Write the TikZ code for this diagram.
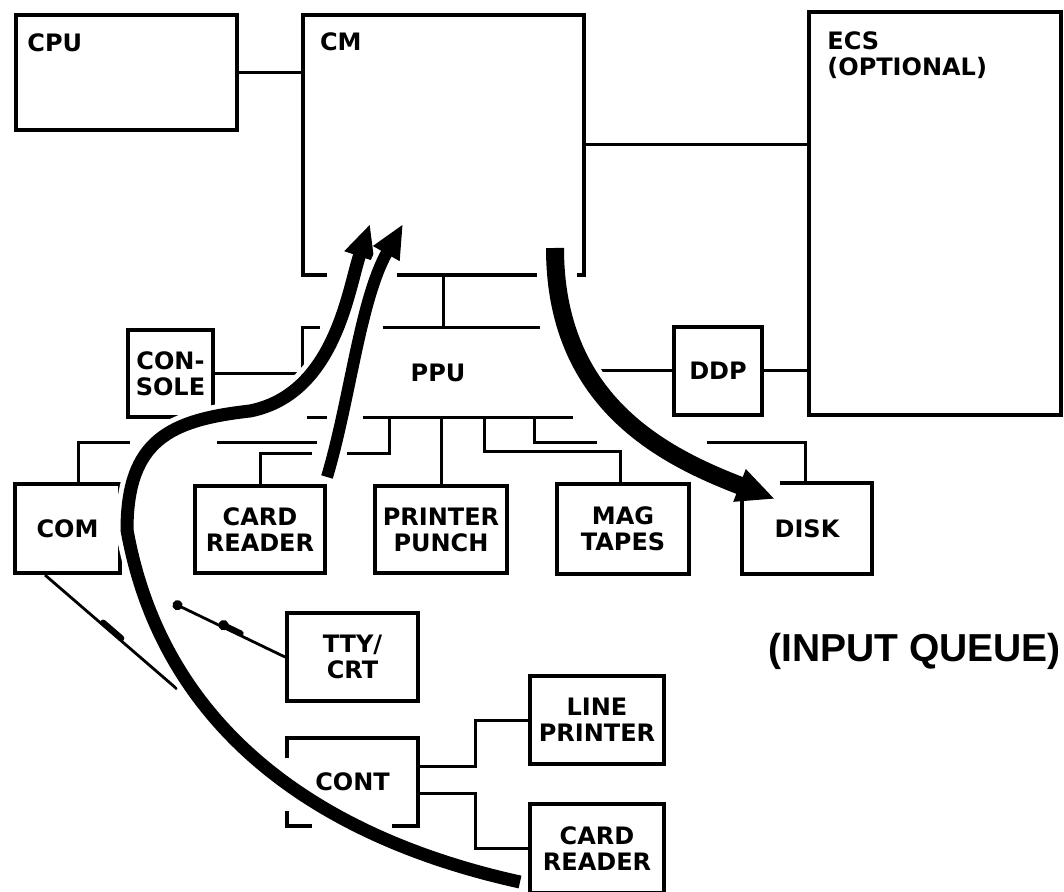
\documentclass[tikz,border=0pt]{standalone}
\usepackage{fontspec}
\setmainfont{DejaVu Sans}
\newfontfamily\queuefont{Liberation Sans}
\usetikzlibrary{arrows.meta,calc,decorations.markings}

\begin{document}
\begin{tikzpicture}[x=0.5pt,y=-0.5pt,
  font=\fontsize{12}{13}\selectfont\bfseries,
  unit/.style={draw,line width=2pt,inner sep=0pt,align=center},
  frame/.style={inner sep=0pt,align=center},
  tag/.style={anchor=north west,inner sep=0pt,align=left},
  link/.style={line width=1.5pt},
  wall/.style={line width=2pt},
  flow/.style={line width=#1,line cap=butt},
  commline/.style={line width=1.4pt,postaction={decorate,decoration={markings,
    mark=at position 0.5 with {\draw[line width=3pt,line cap=round] (-6pt,1pt) -- (6pt,1pt);}}}}]
  \useasboundingbox (0,0) rectangle (1064,892);

  \node[unit,minimum width=110.5pt,minimum height=57.5pt,
    label={[tag,xshift=6.5pt,yshift=-10pt]north west:CPU}] (cpu) at (126.5,72.5) {};
  \node[frame,minimum width=140.5pt,minimum height=130pt,
    label={[tag,xshift=8.5pt,yshift=-9pt]north west:CM}] (cm) at (443.5,145) {};
  \node[unit,minimum width=126pt,minimum height=201.5pt,
    label={[tag,xshift=10pt,yshift=-10.5pt]north west:ECS\\(OPTIONAL)}] (ecs) at (935,213.5) {};
  \node[unit,minimum width=42.5pt,minimum height=43.5pt] (console) at (170.5,373.5) {CON-\\SOLE};
  \node[frame,minimum width=135pt,minimum height=44.5pt] (ppu) at (438,372.5) {PPU};
  \node[unit,minimum size=44pt] (ddp) at (718,371) {DDP};
  \node[unit,minimum width=52.5pt,minimum height=44.5pt] (com) at (67.5,528.5) {COM};
  \node[unit,minimum width=65pt,minimum height=43.5pt] (cardrd) at (260,529.5) {CARD\\READER};
  \node[unit,minimum width=66pt,minimum height=43.5pt] (punch) at (441,529.5) {PRINTER\\PUNCH};
  \node[unit,minimum width=66pt,minimum height=45pt] (mag) at (623,529) {MAG\\TAPES};
  \node[frame,minimum width=65pt,minimum height=45.5pt] (disk) at (807,528.5) {DISK};
  \node[unit,minimum width=65.5pt,minimum height=44pt] (tty) at (352.5,657) {TTY/\\CRT};
  \node[frame,minimum width=65.5pt,minimum height=44pt] (cont) at (352.5,782) {CONT};
  \node[unit,minimum width=67pt,minimum height=44pt] (lp) at (597,720) {LINE\\PRINTER};
  \node[unit,minimum width=67pt,minimum height=44.5pt] (cardrb) at (597,848.5) {CARD\\READER};
  \node[anchor=base west,inner sep=0pt,font=\queuefont\fontsize{19.5}{23}\selectfont\bfseries]
    (queue) at (768,661) {(INPUT QUEUE)};

  \draw[wall] ($(cm.south west)+(24,0)$) -- (cm.south west) -- (cm.north west)
    -- (cm.north east) -- (cm.south east) -- ++(-7,0);
  \draw[wall] ($(cm.south west)+(94,0)$) -- ++(140,0);
  \draw[wall] ($(disk.north west)+(38,0)$) -- (disk.north east) -- (disk.south east)
    -- (disk.south west) -- ++(0,-73);
  \draw[wall] ($(cont.north west)+(0,20)$) -- (cont.north west) -- (cont.north east)
    -- (cont.south east) -- ++(-26,0);
  \draw[wall] ($(cont.south west)+(0,-15)$) -- (cont.south west) -- ++(25,0);

  \draw[link] (cpu.east) -- (cpu.east -| cm.west);
  \draw[link] (cm.east) -- (cm.east -| ecs.west);
  \draw[link] (cm.south) -- (cm.south |- ppu.north);
  \draw[link] (console.east) -- (console.east -| ppu.west) -- (ppu.north west) -- ++(17,0);
  \draw[link] ($(ppu.north west)+(80,0)$) -- ++(157,0);
  \draw[link] ($(ppu.south west)+(4,0)$) -- ++(20,0);
  \draw[link] ($(ppu.south west)+(60,0)$) -- (ppu.south east);
  \draw[link] (ddp.west) -- ++(-79,0);
  \draw[link] (ddp.east) -- (ddp.east -| ecs.west);

  \coordinate (comA) at (317,443);
  \coordinate (comB) at (217,443);
  \coordinate (comC) at (130,443);
  \draw[link] (comA) -- (comB);
  \draw[link] (comC) -| ($(com.north)+(10.5,0)$);
  \coordinate (crdA) at ($(ppu.south west)+(87,0)$);
  \coordinate (crdB) at (347,454);
  \coordinate (crdC) at (312,454);
  \draw[link] (crdA) |- (crdB);
  \draw[link] (crdC) -| (cardrd.north);
  \draw[link] (punch.north) -- (punch.north |- ppu.south);
  \draw[link] ($(ppu.south west)+(182,0)$) |- ($(mag.north)+(-3,-30)$) -- ($(mag.north)+(-3,0)$);
  \coordinate (dskA) at (597,443);
  \coordinate (dskB) at (707,443);
  \draw[link] ($(ppu.south west)+(232,0)$) |- (dskA);
  \draw[link] (dskB) -| ($(disk.north)+(-2,0)$);

  \draw[link] ($(cont.east)+(0,-16)$) -- ++(57,0) |- (lp.west);
  \draw[link] ($(cont.east)+(0,11)$) -- ++(57,0) |- (cardrb.west);

  \coordinate (telA) at (177,689);
  \coordinate (telB) at (173,603);
  \draw[commline] ($(com.south west)+(32,0)$) -- (telA);
  \draw[commline,{Circle[length=5pt]}-] (telB) -- (tty.west);

  \draw[flow=6.5pt,-{Triangle[length=17pt,width=14.5pt]},
    preaction={draw=white,-,line width=11.5pt,shorten >=16pt}]
    (520,882) .. controls (320,838) and (163,730) .. (127,530)
    .. controls (127,440) and (170,420) .. (250,411)
    .. controls (335,394) and (348,290) .. (370,224);
  \draw[flow=6pt,-{Triangle[length=17pt,width=14pt]},
    preaction={draw=white,-,line width=11pt,shorten >=16pt}]
    (327,477) .. controls (350,400) and (360,300) .. (403,224);
  \draw[flow=9pt,-{Triangle[length=19pt,width=16pt]},
    preaction={draw=white,-,line width=14pt,shorten >=18pt}]
    (555,248) .. controls (555,400) and (660,455) .. (775,499);
\end{tikzpicture}
\end{document}
